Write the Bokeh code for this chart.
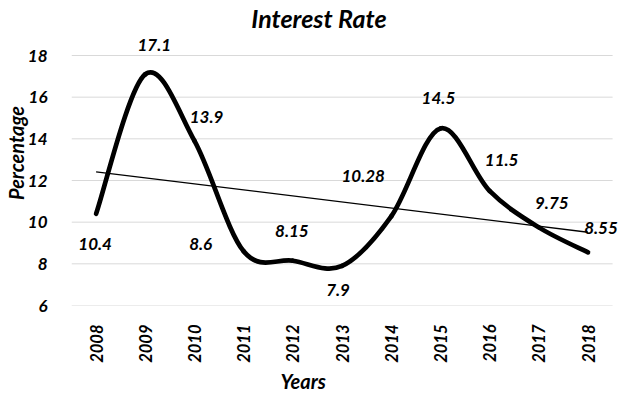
import math
import numpy as np
from bokeh.plotting import figure
from bokeh.models import Range1d, FixedTicker, ColumnDataSource, Title, Label
from bokeh.core.properties import value
from bokeh.embed import file_html
from bokeh.resources import INLINE

years = ["2008", "2009", "2010", "2011", "2012", "2013", "2014", "2015", "2016", "2017", "2018"]
rates = [10.4, 17.1, 13.9, 8.6, 8.15, 7.9, 10.28, 14.5, 11.5, 9.75, 8.55]
rate_labels = ["10.4", "17.1", "13.9", "8.6", "8.15", "7.9", "10.28", "14.5", "11.5", "9.75", "8.55"]
y_ticks = [6, 8, 10, 12, 14, 16, 18]

# label offsets in screen pixels (styling only)
lab_dx = [-1, 9, 12, -43, -1, -4, -28, -2, 12, 13, 13]
lab_dy = [30, -29, -24, -7, -30, 24, -40, -30, -31, -24, -24]

FONT = "Lato"

xs = np.arange(len(years), dtype=float)
ys = np.array(rates, dtype=float)

# Catmull-Rom style smoothing (Excel "smoothed line") as cubic Bezier segments
P = np.column_stack([xs, ys])
Pext = np.vstack([P[0], P, P[-1]])
seg = {k: [] for k in ["x0", "y0", "x1", "y1", "cx0", "cy0", "cx1", "cy1"]}
for i in range(len(P) - 1):
    p0, p1, p2, p3 = Pext[i], Pext[i + 1], Pext[i + 2], Pext[i + 3]
    c1 = p1 + (p2 - p0) / 6.0
    c2 = p2 - (p3 - p1) / 6.0
    seg["x0"].append(p1[0]); seg["y0"].append(p1[1])
    seg["x1"].append(p2[0]); seg["y1"].append(p2[1])
    seg["cx0"].append(c1[0]); seg["cy0"].append(c1[1])
    seg["cx1"].append(c2[0]); seg["cy1"].append(c2[1])

# linear trend line
slope, intercept = np.polyfit(xs, ys, 1)
trend_x = [xs[0], xs[-1]]
trend_y = [intercept + slope * xs[0], intercept + slope * xs[-1]]

x_lo, x_hi = -0.5, len(years) - 0.5
p = figure(width=621, height=395, x_range=Range1d(x_lo, x_hi + 0.181),
           y_range=Range1d(y_ticks[0], y_ticks[-1] + 2.64), output_backend="svg",
           toolbar_location=None,
           min_border_left=66, min_border_right=0, min_border_top=0, min_border_bottom=90)
p.outline_line_color = None
p.background_fill_color = "white"

p.xgrid.grid_line_color = None
p.ygrid.grid_line_color = None
# horizontal gridlines spanning the category area only
p.segment(x0=[x_lo] * len(y_ticks), x1=[x_hi] * len(y_ticks), y0=y_ticks, y1=y_ticks,
          line_color="#d9d9d9", line_width=1)

p.yaxis.ticker = FixedTicker(ticks=y_ticks)
p.xaxis.ticker = FixedTicker(ticks=list(range(len(years))))
p.xaxis.major_label_overrides = {i: y for i, y in enumerate(years)}
p.xaxis.major_label_orientation = math.pi / 2

for ax in (p.xaxis[0], p.yaxis[0]):
    ax.axis_line_color = None
    ax.major_tick_line_color = None
    ax.minor_tick_line_color = None
    ax.major_label_text_font = FONT
    ax.major_label_text_font_size = "17px"
    ax.major_label_text_font_style = "bold italic"
    ax.major_label_text_color = "black"
    ax.axis_label_text_font = FONT
    ax.axis_label_text_font_size = "20px"
    ax.axis_label_text_font_style = "bold italic"
    ax.axis_label_text_color = "black"

p.xaxis.major_label_text_font_size = "16.5px"
p.yaxis.axis_label = "Percentage"
p.xaxis.major_label_standoff = 13
p.yaxis.major_label_standoff = 18
p.yaxis.axis_label_standoff = -3

# chart title drawn inside the (extended) frame, above the gridded area
p.add_layout(Label(x=4.53, y=19.8, text="Interest Rate", text_font=FONT,
                   text_font_size="25px", text_font_style="bold italic",
                   text_color="black", text_align="center", text_baseline="middle"))

p.add_layout(Title(text="Years", align="left", offset=209, standoff=2, text_font=FONT,
                   text_font_size="20px", text_font_style="bold italic",
                   text_color="black"), "below")

p.line(trend_x, trend_y, line_color="black", line_width=1.3)
p.bezier(source=ColumnDataSource(seg), x0="x0", y0="y0", x1="x1", y1="y1",
         cx0="cx0", cy0="cy0", cx1="cx1", cy1="cy1",
         line_color="black", line_width=4.7, line_cap="round")

lab_src = ColumnDataSource(dict(x=xs, y=ys, t=rate_labels, dx=lab_dx, dy=lab_dy))
p.text(x="x", y="y", text="t", x_offset="dx", y_offset="dy", source=lab_src,
       text_font=value(FONT), text_font_size="17px", text_font_style="bold italic",
       text_color="black", text_align="center", text_baseline="middle")

open("out.html", "w").write(file_html(p, INLINE))
